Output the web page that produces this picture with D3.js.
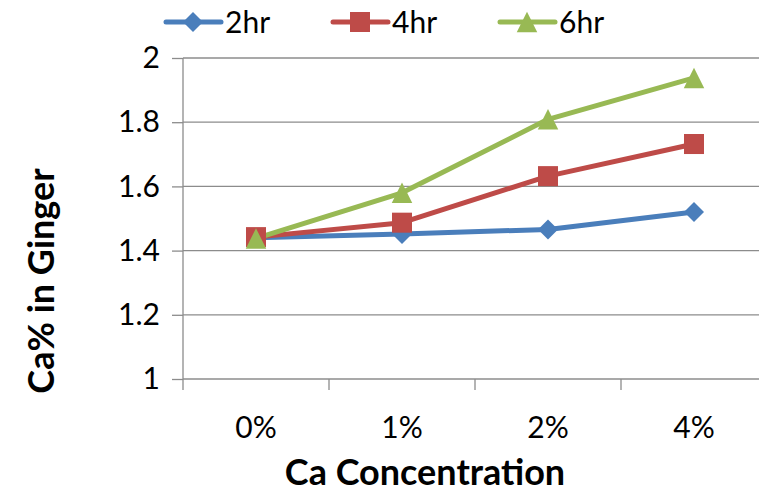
<!DOCTYPE html>
<html>
<head>
<meta charset="utf-8">
<script src="https://cdn.jsdelivr.net/npm/d3@7"></script>
<style>
  html, body { margin: 0; padding: 0; background: #fff; }
  svg { display: block; font-family: Lato, "Open Sans", sans-serif; }
</style>
</head>
<body>
<svg id="chart" width="759" height="492"></svg>
<script>
// Ca content of ginger by soaking time and Ca concentration
const categories = ["0%", "1%", "2%", "4%"];
const seriesNames = ["2hr", "4hr", "6hr"];
const values2hr = [1.44, 1.452, 1.466, 1.52];
const values4hr = [1.442, 1.487, 1.632, 1.732];
const values6hr = [1.438, 1.58, 1.809, 1.938];
const yTicks = [1, 1.2, 1.4, 1.6, 1.8, 2];
const yTickLabels = ["1", "1.2", "1.4", "1.6", "1.8", "2"];

// triangle as wide as it is tall (size = side squared)
const symbolTriangleSquare = {
  draw(context, size) {
    const w = Math.sqrt(size) / 2;
    context.moveTo(0, -w);
    context.lineTo(w, w);
    context.lineTo(-w, w);
    context.closePath();
  }
};

const colors = ["#4A7EBB", "#BE4B48", "#98B954"];
const shapes = [d3.symbolDiamond2, d3.symbolSquare2, symbolTriangleSquare];
const sizes = [255, 510, 420];
const series = [values2hr, values4hr, values6hr].map((v, i) => ({
  name: seriesNames[i], values: v, color: colors[i], shape: shapes[i], size: sizes[i]
}));

const svg = d3.select("#chart");
const plotLeft = 183, plotRight = 767, plotTop = 58, plotBottom = 379;

const x = d3.scaleBand().domain(categories).range([plotLeft, plotRight]);
const xc = d => x(d) + x.bandwidth() / 2;
const y = d3.scaleLinear().domain([1, 2]).range([plotBottom, plotTop]);

const gridColor = "#8c8c8c";

// horizontal gridlines
svg.append("g").selectAll("line")
  .data(yTicks.slice(1))
  .join("line")
  .attr("x1", plotLeft).attr("x2", plotRight)
  .attr("y1", d => y(d)).attr("y2", d => y(d))
  .attr("stroke", gridColor).attr("stroke-width", 1.3);

// y axis
const yAxis = d3.axisLeft(y).tickValues(yTicks)
  .tickFormat((d, i) => yTickLabels[i]).tickSize(11).tickPadding(12);
const gy = svg.append("g").attr("transform", `translate(${plotLeft},0)`).call(yAxis);
gy.select(".domain").attr("stroke", gridColor).attr("stroke-width", 1.3)
  .attr("d", `M0,${plotBottom}V${plotTop}`);
gy.selectAll(".tick line").attr("stroke", gridColor).attr("stroke-width", 1.3);
gy.selectAll(".tick text").attr("font-size", 30).attr("fill", "#000")
  .attr("font-family", "Lato, sans-serif");

// x axis
const xAxis = d3.axisBottom(x).tickSize(0).tickPadding(38);
const gx = svg.append("g").attr("transform", `translate(0,${plotBottom})`).call(xAxis);
gx.select(".domain").attr("stroke", gridColor).attr("stroke-width", 1.3)
  .attr("d", `M${plotLeft},0H${plotRight}`);
gx.selectAll(".tick text").attr("font-size", 30).attr("fill", "#000")
  .attr("font-family", "Lato, sans-serif");
// category separators
gx.append("g").selectAll("line")
  .data(categories)
  .join("line")
  .attr("x1", d => x(d)).attr("x2", d => x(d))
  .attr("y1", 0).attr("y2", 11)
  .attr("stroke", gridColor).attr("stroke-width", 1.3);

// lines and markers
const line = d3.line().x((d, i) => xc(categories[i])).y(d => y(d));
series.forEach(s => {
  svg.append("path")
    .datum(s.values)
    .attr("d", line)
    .attr("fill", "none")
    .attr("stroke", s.color)
    .attr("stroke-width", 5)
    .attr("stroke-linejoin", "round");
});
series.forEach(s => {
  svg.append("g").selectAll("path")
    .data(s.values)
    .join("path")
    .attr("transform", (d, i) => `translate(${xc(categories[i])},${y(d)})`)
    .attr("d", d3.symbol(s.shape, s.size))
    .attr("fill", s.color);
});

// axis titles
svg.append("text")
  .attr("x", 425).attr("y", 485)
  .attr("text-anchor", "middle")
  .attr("font-size", 36).attr("font-weight", "bold")
  .text("Ca Concentration");

svg.append("text")
  .attr("transform", "translate(54,281) rotate(-90)")
  .attr("text-anchor", "middle")
  .attr("font-size", 36).attr("font-weight", "bold")
  .text("Ca% in Ginger");

// legend
const legendX = [166, 333, 500];
const legend = svg.append("g").selectAll("g")
  .data(series)
  .join("g")
  .attr("transform", (d, i) => `translate(${legendX[i]},22)`);
legend.append("line")
  .attr("x1", 0).attr("x2", 55)
  .attr("stroke", d => d.color).attr("stroke-width", 5)
  .attr("stroke-linecap", "round");
legend.append("path")
  .attr("transform", "translate(27,0)")
  .attr("d", d => d3.symbol(d.shape, d.size)())
  .attr("fill", d => d.color);
legend.append("text")
  .attr("x", 59).attr("y", 11)
  .attr("font-size", 30)
  .text(d => d.name);
</script>
</body>
</html>
